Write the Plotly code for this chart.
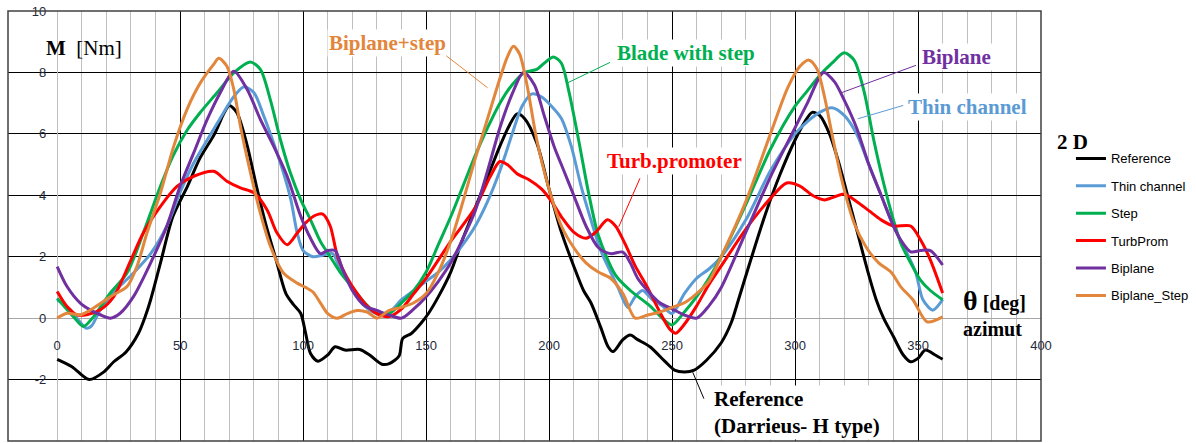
import plotly.graph_objects as go

# ---------------- data ----------------
ref_x = [0, 6, 13, 19, 23, 28, 33, 36, 38, 42, 47, 53, 58, 64, 68, 70, 73, 77, 81, 85, 89, 93, 96, 99,
         101, 103, 106, 110, 113, 117, 123, 127, 132, 135, 139, 140.5, 144, 148, 151, 155, 160, 165, 170,
         175, 180, 184, 187, 190, 195, 200, 205, 210, 214, 217, 221, 224, 226, 230, 233, 236, 241, 247,
         251, 255, 259, 264, 270, 274, 277, 282, 288, 294, 300, 304, 307, 310, 314, 318, 322, 326, 330,
         333, 336, 340, 344, 347, 350, 353, 357, 360]
ref_y = [-1.34, -1.58, -2.0, -1.75, -1.42, -1.1, -0.5, 0.1, 0.6, 1.8, 3.3, 4.3, 5.2, 6.0, 6.7, 6.92, 6.7,
         5.7, 4.3, 3.0, 1.9, 0.8, 0.45, 0.16, -0.49, -1.15, -1.4, -1.2, -0.93, -1.04, -1.02, -1.2, -1.5,
         -1.48, -1.23, -0.66, -0.5, -0.16, 0.16, 0.7, 1.5, 2.6, 3.6, 4.6, 5.6, 6.3, 6.65, 6.5, 5.7, 4.2,
         2.8, 1.7, 0.9, 0.5, -0.3, -0.93, -1.09, -0.7, -0.55, -0.7, -0.93, -1.4, -1.69, -1.75, -1.69,
         -1.37, -0.8, -0.16, 0.6, 1.9, 3.4, 4.7, 5.8, 6.4, 6.7, 6.6, 6.0, 5.0, 3.8, 2.6, 1.4, 0.6, 0.0,
         -0.6, -1.2, -1.42, -1.31, -1.04, -1.2, -1.34]

thin_x = [0, 5, 9, 12, 14, 17.5, 24, 31, 38, 44.6, 50, 55.5, 61, 66, 72, 76, 80, 84, 88, 92, 95, 97.6,
          100, 104, 108, 112, 115, 120, 125, 130, 135, 140, 145, 150, 155, 160, 165, 170, 175, 180, 185,
          189, 193, 197, 201, 205, 209, 213, 217, 221, 225, 228, 232, 235, 238, 242, 246, 250, 255, 260,
          265, 270, 280, 290, 300, 305, 310, 315, 320, 325, 330, 335, 340, 345, 349, 352, 356, 360]
thin_y = [0.6, 0.3, -0.1, -0.33, -0.25, 0.27, 0.92, 1.47, 2.1, 3.0, 4.1, 5.05, 5.8, 6.47, 7.23, 7.53,
          7.34, 6.58, 5.7, 4.73, 3.86, 2.77, 2.2, 2.0, 2.05, 2.1, 1.6, 1.0, 0.4, 0.15, 0.2, 0.6, 0.9, 1.2,
          1.5, 1.9, 2.4, 3.0, 3.8, 4.8, 6.0, 6.9, 7.3, 7.2, 6.9, 6.5, 5.6, 4.3, 3.2, 2.2, 1.5, 1.0, 0.35,
          0.7, 0.9, 0.6, 0.4, 0.15, 0.8, 1.3, 1.6, 2.0, 3.2, 4.8, 6.0, 6.4, 6.7, 6.85, 6.6, 6.0, 5.0, 4.0,
          3.0, 2.2, 1.5, 0.6, 0.26, 0.6]

step_x = [0, 6.6, 10.7, 14.8, 21.6, 28.4, 35, 42, 47, 53, 58, 65, 72, 78.5, 82.6, 86.7, 90.8, 94.8, 99,
          103, 107, 111, 115, 120, 125, 130, 135, 140, 145, 150, 155, 160, 165, 170, 175, 180, 185, 190,
          195, 198, 201.8, 205, 208, 212, 216, 220, 227, 233, 241, 246, 250, 255, 260, 265, 270, 280, 290,
          300, 305, 310, 315, 320, 324, 328, 332, 336, 340, 343, 347, 351, 355, 360]
step_y = [0.65, 0.05, -0.27, 0.05, 0.82, 1.47, 2.77, 4.3, 5.27, 6.14, 6.68, 7.34, 8.0, 8.34, 8.1, 7.1,
          5.8, 4.73, 3.86, 3.2, 2.5, 2.0, 1.5, 1.0, 0.5, 0.15, 0.15, 0.5, 0.9, 1.5, 2.4, 3.3, 4.3, 5.3,
          6.2, 7.0, 7.6, 8.0, 8.1, 8.3, 8.5, 8.3, 7.4, 5.8, 4.1, 2.7, 1.4, 0.9, 0.4, 0.0, -0.22, 0.2, 0.7,
          1.3, 2.0, 3.7, 5.5, 6.9, 7.4, 7.9, 8.3, 8.64, 8.4, 7.4, 5.8, 4.4, 3.2, 2.44, 1.8, 1.24, 0.9, 0.6]

turb_x = [0, 4, 8, 12, 17.5, 23, 30, 35, 42, 48.7, 55.5, 63.6, 69, 74.5, 80, 85.3, 89.4, 93.5, 97.6, 101,
          105, 108, 111, 114, 118, 122, 126, 130, 135, 140, 145, 150, 160, 170, 176, 180, 183, 187, 192,
          197, 201, 205, 210, 215, 219, 223.7, 227, 231, 235, 240, 245, 249, 251.5, 255, 260, 265, 270,
          280, 290, 296.6, 302, 307, 312, 316, 320, 325, 330, 335, 340, 347, 351, 355, 360]
turb_y = [0.87, 0.38, 0.11, 0.11, 0.27, 0.7, 1.9, 2.77, 3.64, 4.29, 4.62, 4.78, 4.46, 4.24, 4.08, 3.53,
          2.77, 2.39, 2.77, 3.1, 3.35, 3.39, 3.0, 2.0, 1.3, 0.8, 0.4, 0.15, 0.05, 0.3, 0.8, 1.3, 2.5, 3.6,
          4.6, 5.1, 5.0, 4.7, 4.5, 4.2, 3.8, 3.3, 2.8, 2.6, 2.8, 3.2, 3.0, 2.4, 1.7, 1.0, 0.2, -0.35,
          -0.49, -0.2, 0.4, 1.1, 1.7, 2.9, 3.9, 4.4, 4.3, 4.0, 3.85, 3.95, 4.04, 3.8, 3.5, 3.2, 3.0, 3.0,
          2.55, 1.9, 0.82]

bip_x = [0, 4, 9.4, 13.4, 17.5, 21.6, 25.6, 31, 38, 44.6, 50, 55.5, 61, 66.3, 71.8, 77.2, 82.6, 88, 93.5,
         99, 103, 107, 110, 113, 116, 120, 125, 130, 135, 140, 145, 150, 155, 160, 165, 170, 175, 180,
         185, 189.6, 194, 198, 202, 206, 210, 215, 220, 225, 230, 233, 236, 240, 245, 250, 255, 260, 265,
         270, 280, 290, 300, 305, 311.6, 316, 320, 325, 330, 335, 340, 343, 347, 351, 355, 360]
bip_y = [1.68, 1.03, 0.49, 0.27, 0.11, 0.0, 0.16, 0.7, 1.8, 3.0, 4.3, 5.38, 6.47, 7.34, 8.04, 7.45, 6.47,
         5.6, 4.62, 3.32, 2.6, 2.1, 2.2, 2.2, 1.6, 0.9, 0.4, 0.25, 0.1, 0.0, 0.3, 0.7, 1.2, 1.8, 2.6, 3.5,
         4.8, 6.2, 7.3, 8.0, 7.6, 6.6, 5.6, 4.8, 4.0, 3.0, 2.3, 2.1, 2.15, 1.8, 1.3, 0.9, 0.5, 0.3, 0.1,
         0.0, 0.4, 1.0, 2.8, 4.6, 6.2, 7.0, 8.0, 7.7, 7.1, 6.2, 5.0, 4.0, 3.0, 2.54, 2.16, 2.2, 2.2, 1.73]

bst_x = [0, 4, 9.4, 14.8, 21.6, 28.4, 32.4, 36.5, 42, 47.4, 52.8, 58.2, 63.6, 65.7, 69, 71.8, 74.5, 78.6,
         82.6, 86.7, 92, 97.6, 101, 104, 107, 110, 114, 118, 122, 126, 130, 135, 140, 145, 150, 155, 160,
         165, 170, 175, 180, 183, 185.5, 188, 191, 195, 200, 205, 210, 215, 220, 225, 230, 235, 240, 245,
         250, 255, 260, 265, 270, 280, 290, 297, 302, 305.7, 309, 312, 315, 319, 324, 329, 334, 339, 343,
         348, 353.7, 360]
bst_y = [0.0, 0.16, 0.11, 0.33, 0.7, 1.03, 1.68, 2.77, 4.08, 5.6, 6.8, 7.66, 8.26, 8.46, 8.2, 7.45, 6.25,
         4.73, 3.42, 2.34, 1.47, 1.14, 1.0, 0.85, 0.5, 0.15, 0.0, 0.15, 0.25, 0.2, 0.0, 0.25, 0.35, 0.5,
         0.8, 1.5, 2.5, 3.8, 5.2, 6.5, 7.8, 8.5, 8.85, 8.6, 7.6, 5.8, 4.2, 3.0, 2.3, 1.8, 1.5, 1.3, 0.8,
         0.0, 0.1, 0.2, 0.35, 0.5, 0.8, 1.2, 2.0, 3.8, 6.0, 7.5, 8.2, 8.4, 8.1, 7.2, 6.0, 4.5, 3.1, 2.3,
         1.8, 1.5, 1.02, 0.59, -0.12, 0.04]

x_ticks = [0, 50, 100, 150, 200, 250, 300, 350, 400]
y_ticks = [-4, -2, 0, 2, 4, 6, 8, 10]
y_ticktext = ["-4", "-2", "0", "2", "4", "6", "8", "10"]

series = [
    ("Reference", ref_x, ref_y, "#000000"),
    ("Thin channel", thin_x, thin_y, "#5B9BD5"),
    ("Step", step_x, step_y, "#00B050"),
    ("TurbProm", turb_x, turb_y, "#FF0000"),
    ("Biplane", bip_x, bip_y, "#7030A0"),
    ("Biplane_Step", bst_x, bst_y, "#E2863C"),
]

# ---------------- figure ----------------
fig = go.Figure()
for i, (name, xs, ys, col) in enumerate(series):
    fig.add_trace(go.Scatter(
        x=xs, y=ys, name=name, mode="lines", legendgroup=name,
        line=dict(color=col, width=3, shape="spline", smoothing=0.8),
    ))

SERIF = "Liberation Serif, Times New Roman, serif"
SANS = "Liberation Sans, Arial, sans-serif"

fig.update_layout(
    width=1196, height=443,
    margin=dict(l=8, r=155, t=11, b=2),
    paper_bgcolor="white", plot_bgcolor="white",
    showlegend=True,
    legend=dict(x=1.029, y=0.692, xanchor="left", yanchor="top",
                font=dict(family=SANS, size=13, color="#000000"),
                traceorder="grouped", tracegroupgap=7.5, bgcolor="rgba(0,0,0,0)"),
    xaxis=dict(range=[-20, 400], tickvals=x_ticks, showgrid=True, gridcolor="#000000", gridwidth=1,
               zeroline=True, zerolinecolor="#BFBFBF", zerolinewidth=1,
               minor=dict(tickmode="array", tickvals=list(range(10, 400, 10)), showgrid=True,
                          gridcolor="#BFBFBF", gridwidth=1),
               anchor="free", position=0.245, showline=False, ticks="",
               tickfont=dict(family=SANS, size=13, color="#1F2A3A")),
    yaxis=dict(range=[-4, 10], tickvals=y_ticks, ticktext=y_ticktext, showgrid=True,
               gridcolor="#000000", gridwidth=1,
               zeroline=True, zerolinecolor="#A6A6A6", zerolinewidth=1,
               anchor="free", position=0.037, showline=False, ticks="",
               tickfont=dict(family=SANS, size=13, color="#1F2A3A")),
)

# plot-area frame
fig.add_shape(type="rect", xref="paper", yref="paper", x0=0, y0=0, x1=1, y1=1,
              line=dict(color="#404040", width=1.5), layer="above")

def label(text, x, y, color, size=21, align="center", bg="white"):
    fig.add_annotation(x=x, y=y, xref="x", yref="y", text=text, showarrow=False,
                       font=dict(family=SERIF, size=size, color=color), align=align,
                       bgcolor=bg, borderpad=1)

def leader(x0, y0, x1, y1, color):
    fig.add_annotation(x=x1, y=y1, ax=x0, ay=y0, xref="x", yref="y", axref="x", ayref="y",
                       text="", showarrow=True, arrowhead=0, arrowwidth=1, arrowcolor=color,
                       standoff=0, startstandoff=0)

label("<b>M</b>  [Nm]", 10.8, 8.8, "#000000", bg="rgba(255,255,255,0)")
label("<b>Biplane+step</b>", 134.1, 8.97, "#E2863C")
leader(157.6, 8.58, 175.0, 7.5, "#E2863C")
label("<b>Blade with step</b>", 255.5, 8.64, "#00B050")
leader(225.4, 8.35, 207.5, 7.66, "#00B050")
label("<b>Biplane</b>", 365.7, 8.51, "#7030A0")
leader(349.8, 8.25, 318.9, 7.34, "#7030A0")
label("<b>Thin channel</b>", 370.2, 6.88, "#5B9BD5")
leader(344.6, 6.94, 325.5, 6.49, "#5B9BD5")
label("<b>Turb.promoter</b>", 251.1, 5.12, "#FF0000")
leader(237.2, 4.6, 228.3, 2.97, "#FF0000")
label("<b>Reference<br>(Darrieus- H type)</b>", 300.6, -3.06, "#000000", align="left")
leader(263.2, -2.67, 258.4, -1.76, "#000000")
label("<b><span style='font-size:28px'>θ</span> [deg]</b>", 381.1, 0.56, "#000000", size=20,
      bg="rgba(255,255,255,0)")
label("<b>azimut</b>", 380.3, -0.36, "#000000", size=20, bg="rgba(255,255,255,0)")

fig.add_annotation(x=1.0474, y=0.728, xref="paper", yref="paper", text="<b>2 D</b>",
                   showarrow=False, font=dict(family=SERIF, size=21, color="#000000"))

fig.write_html("out.html")
